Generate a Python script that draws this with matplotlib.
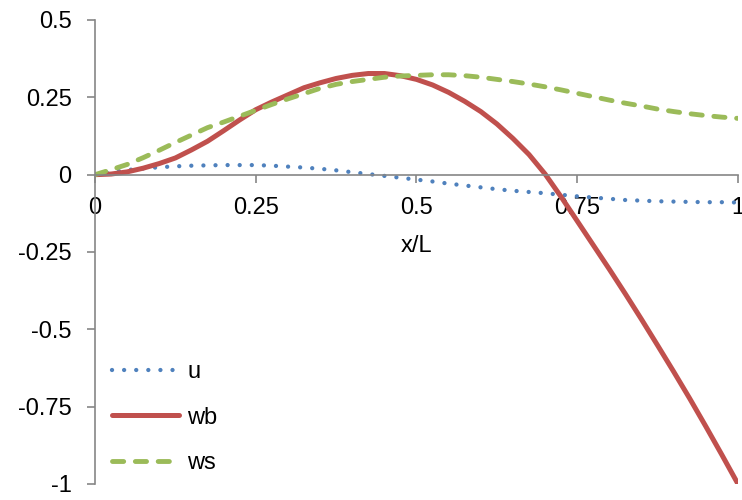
import matplotlib
matplotlib.use("Agg")
import matplotlib.pyplot as plt

# x/L positions and readings
x_over_l = [0.000, 0.025, 0.050, 0.075, 0.100, 0.125, 0.150, 0.175, 0.200, 0.225,
            0.250, 0.275, 0.300, 0.325, 0.350, 0.375, 0.400, 0.425, 0.450, 0.475,
            0.500, 0.525, 0.550, 0.575, 0.600, 0.625, 0.650, 0.675, 0.700, 0.725,
            0.750, 0.775, 0.800, 0.825, 0.850, 0.875, 0.900, 0.925, 0.950, 0.975,
            1.000]
u = [0.000, 0.008, 0.015, 0.020, 0.024, 0.027, 0.029, 0.030, 0.031, 0.031,
     0.031, 0.029, 0.026, 0.023, 0.019, 0.014, 0.008, 0.002, -0.004, -0.010,
     -0.016, -0.022, -0.029, -0.035, -0.041, -0.047, -0.052, -0.056, -0.060, -0.065,
     -0.070, -0.074, -0.078, -0.082, -0.084, -0.086, -0.087, -0.088, -0.089, -0.089,
     -0.090]
wb = [0.000, 0.002, 0.009, 0.021, 0.036, 0.054, 0.080, 0.108, 0.142, 0.177,
      0.210, 0.235, 0.258, 0.281, 0.297, 0.311, 0.321, 0.327, 0.327, 0.320,
      0.308, 0.290, 0.266, 0.237, 0.204, 0.164, 0.117, 0.065, 0.002, -0.072,
      -0.150, -0.228, -0.306, -0.386, -0.468, -0.552, -0.637, -0.724, -0.814, -0.906,
      -1.000]
ws = [0.000, 0.016, 0.033, 0.055, 0.079, 0.104, 0.128, 0.152, 0.170, 0.189,
      0.208, 0.227, 0.245, 0.262, 0.279, 0.292, 0.301, 0.308, 0.315, 0.319,
      0.321, 0.323, 0.323, 0.320, 0.315, 0.308, 0.301, 0.293, 0.284, 0.274,
      0.263, 0.252, 0.241, 0.231, 0.222, 0.212, 0.204, 0.197, 0.191, 0.186,
      0.182]

x_ticks = [0, 0.25, 0.5, 0.75, 1]
x_tick_labels = ["0", "0.25", "0.5", "0.75", "1"]
y_ticks = [-1, -0.75, -0.5, -0.25, 0, 0.25, 0.5]
y_tick_labels = ["-1", "-0.75", "-0.5", "-0.25", "0", "0.25", "0.5"]

plt.rcParams["font.family"] = ["Liberation Sans", "DejaVu Sans"]
plt.rcParams["font.size"] = 17

fig = plt.figure(figsize=(7.42, 5.00), dpi=100)
ax = fig.add_axes([95 / 742, 16 / 500, 643 / 742, 464 / 500])

ax.plot(x_over_l, u, color="#4F81BD", linewidth=3.1,
        linestyle=(0, (0.01, 2.8)), dash_capstyle="round", label="u")
ax.plot(x_over_l, wb, color="#C0504D", linewidth=3.6,
        solid_capstyle="round", solid_joinstyle="round", label="wb")
ax.plot(x_over_l, ws, color="#9BBB59", linewidth=3.5,
        linestyle=(0, (2.3, 2.4)), dash_capstyle="round", label="ws")

ax.set_xlim(0, 1)
ax.set_ylim(-1, 0.5)
ax.set_xticks(x_ticks, x_tick_labels)
ax.set_yticks(y_ticks, y_tick_labels)

axis_grey = "#868686"
for side in ("top", "right"):
    ax.spines[side].set_visible(False)
ax.spines["bottom"].set_position(("data", 0))
for side in ("left", "bottom"):
    ax.spines[side].set_color(axis_grey)
    ax.spines[side].set_linewidth(1.2)
ax.tick_params(axis="both", color=axis_grey, width=1.2, length=5.8, direction="out")
ax.tick_params(axis="x", pad=10)
ax.tick_params(axis="y", pad=11)

ax.set_xlabel("x/L", labelpad=12)

ax.legend(loc="lower left", bbox_to_anchor=(0.026, 0.021), frameon=False,
          borderaxespad=0, borderpad=0, handlelength=2.85, handletextpad=0.35,
          labelspacing=1.0)

fig.savefig("out.png", dpi=100)
